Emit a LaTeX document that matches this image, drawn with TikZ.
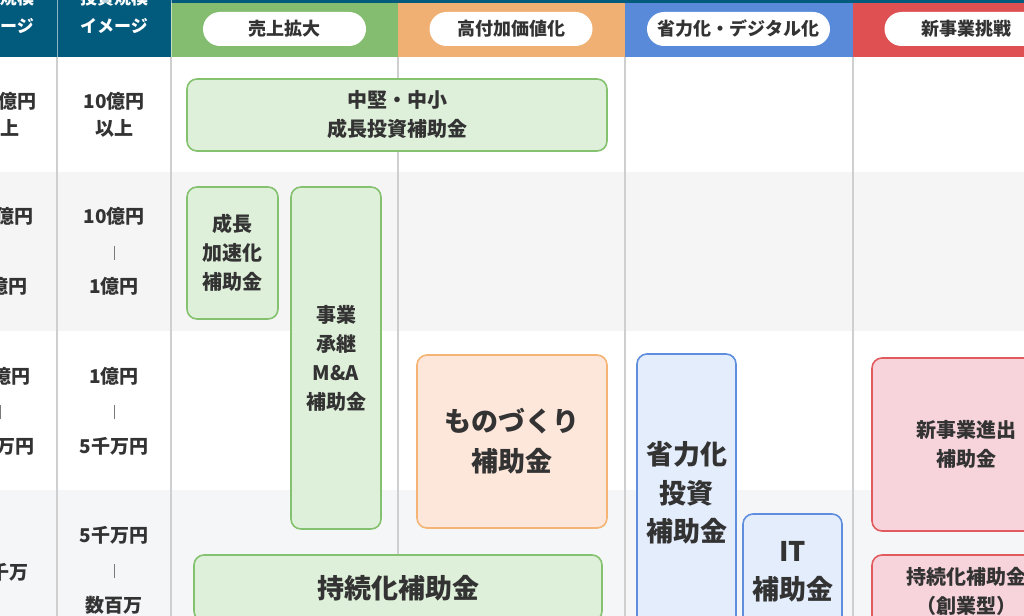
\documentclass[tikz,border=0pt]{standalone}
\usepackage{fontspec}
\setmainfont{Noto Sans CJK JP}
\usepackage{xcolor}
\usetikzlibrary{positioning}

\definecolor{headteal}{HTML}{025A7D}
\definecolor{headgreen}{HTML}{84BD70}
\definecolor{headorange}{HTML}{F0B074}
\definecolor{headblue}{HTML}{588AD9}
\definecolor{headred}{HTML}{DF5052}
\definecolor{greenfill}{HTML}{DFF0DA}
\definecolor{greenline}{HTML}{84C270}
\definecolor{orangefill}{HTML}{FDE6DA}
\definecolor{orangeline}{HTML}{F3B475}
\definecolor{bluefill}{HTML}{E4EDFB}
\definecolor{blueline}{HTML}{5E8EDD}
\definecolor{redfill}{HTML}{F7D4DB}
\definecolor{redline}{HTML}{E15B5E}
\definecolor{rowgray}{HTML}{F5F5F5}
\definecolor{rowgraytwo}{HTML}{F5F6F8}
\definecolor{gridgray}{HTML}{CFCFCF}
\definecolor{ink}{HTML}{333333}
\definecolor{bargray}{HTML}{7A7A7A}

\newcommand{\rangebar}{{\color{bargray}\rule[-1pt]{0.9pt}{14pt}}}

\begin{document}
\begin{tikzpicture}[x=1pt, y=-1pt, line cap=round, line join=round,
    headtext/.style={text=white, font=\bfseries\fontsize{17}{28}\selectfont, align=center},
    pill/.style={fill=white, rounded corners=17pt, minimum width=163pt, minimum height=34pt,
        inner sep=0pt, text=ink, font=\bfseries\fontsize{18}{20}\selectfont},
    scaletext/.style={text=ink, align=center, font=\bfseries\fontsize{19}{27}\selectfont},
    rangetext/.style={text=ink, align=center, font=\bfseries\fontsize{19}{35}\selectfont},
    grant/.style={rounded corners=10pt, line width=1.6pt, inner sep=0pt, text=ink,
        align=center, font=\bfseries\fontsize{20}{29}\selectfont},
    biggrant/.style={grant, font=\bfseries\fontsize{27}{40}\selectfont},
    greengrant/.style={grant, draw=greenline, fill=greenfill},
    orangegrant/.style={grant, draw=orangeline, fill=orangefill},
    bluegrant/.style={grant, draw=blueline, fill=bluefill},
    redgrant/.style={grant, draw=redline, fill=redfill}]

    % Frame of the visible part
    \useasboundingbox (0,0) rectangle (1024,615);
    \clip (0,0) rectangle (1024,615);

    % Row backgrounds
    \fill[rowgray] (-120,172) rectangle (1100,331);
    \fill[rowgraytwo] (-120,490) rectangle (1100,660);

    % Header band
    \fill[headteal] (-120,0) rectangle (1100,57);
    \foreach \xa/\xb/\col in {171/398/headgreen, 398/625/headorange, 625/853/headblue, 853/1080/headred}
        \fill[\col] (\xa,3) rectangle (\xb,57);

    % Column lines
    \foreach \x in {57,171}
        \draw[white, opacity=0.55, line width=0.8pt] (\x,0) -- (\x,57);
    \foreach \x in {57,171,398,625,853}
        \draw[gridgray, line width=1.6pt, line cap=butt] (\x,57) -- (\x,660);

    % Header texts
    \node[headtext] (salesHead) at (0,12) {売上規模\\イメージ};
    \node[headtext] (investHead) at (114,12) {投資規模\\イメージ};
    \node[pill] (growPill) at (284.5,29) {売上拡大};
    \node[pill] (valuePill) at (511,29) {高付加価値化};
    \node[pill, minimum width=183pt] (digiPill) at (738.5,29) {省力化・デジタル化};
    \node[pill] (newPill) at (966,29) {新事業挑戦};

    % Scale column: sales
    \node[scaletext] (salesOne) at (0,114.5) {100億円\\以上};
    \node[rangetext] (salesTwo) at (-3,251.5) {100億円\\\rangebar\\10億円};
    \node[rangetext] (salesThree) at (0,411) {10億円\\\rangebar\\5千万円};
    \node[scaletext] (salesFour) at (0,572) {数千万};

    % Scale column: investment
    \node[scaletext] (investOne) at (114,114.5) {10億円\\以上};
    \node[rangetext] (investTwo) at (114,251.5) {10億円\\\rangebar\\1億円};
    \node[rangetext] (investThree) at (114,411) {1億円\\\rangebar\\5千万円};
    \node[rangetext] (investFour) at (114,570) {5千万円\\\rangebar\\数百万};

    % Grants: sales growth
    \node[greengrant, minimum width=420pt, minimum height=72pt] (midSize) at (397,115)
        {中堅・中小\\成長投資補助金};
    \node[greengrant, minimum width=91pt, minimum height=132pt] (growthAccel) at (232.5,253)
        {成長\\加速化\\補助金};
    \node[greengrant, minimum width=90pt, minimum height=342pt] (succession) at (336,358)
        {事業\\承継\\M\&A\\補助金};
    \node[greengrant, biggrant, minimum width=408pt, minimum height=66pt] (sustain) at (398,588)
        {持続化補助金};

    % Grants: added value
    \node[orangegrant, biggrant, minimum width=190pt, minimum height=173pt] (monozukuri) at (512,441.5)
        {ものづくり\\補助金};

    % Grants: labour saving and digital
    \node[bluegrant, biggrant, font=\bfseries\fontsize{27}{38.5}\selectfont,
        minimum width=99pt, minimum height=278pt] (laborSaving) at (686.5,493)
        {省力化\\投資\\補助金};
    \node[bluegrant, biggrant, font=\bfseries\fontsize{27}{38}\selectfont,
        minimum width=99pt, minimum height=116pt] (itGrant) at (792.5,572)
        {IT\\補助金};

    % Grants: new business
    \node[redgrant, minimum width=188pt, minimum height=173pt] (newBiz) at (966,444.5)
        {新事業進出\\補助金};
    \node[redgrant, minimum width=188pt, minimum height=72pt] (sustainStart) at (966,591)
        {持続化補助金\\（創業型）};
\end{tikzpicture}
\end{document}
